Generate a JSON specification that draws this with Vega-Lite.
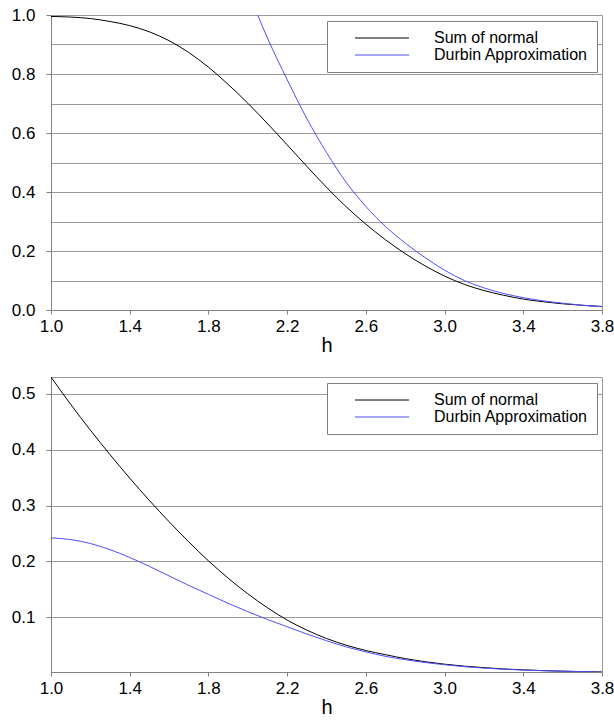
{
  "$schema": "https://vega.github.io/schema/vega-lite/v6.json",
  "padding": {"left": 10, "top": 5, "right": 0, "bottom": 0},
  "background": "white",
  "config": {
    "font": "Liberation Sans",
    "view": {"stroke": "#999999", "strokeWidth": 1},
    "axis": {
      "labelFont": "Liberation Sans", "labelFontSize": 17, "labelColor": "#000000",
      "domainColor": "#808080", "tickColor": "#808080", "gridColor": "#9a9a9a",
      "titleFont": "Liberation Sans", "titleFontSize": 20, "titleFontWeight": "normal", "titleColor": "#000000"
    },
    "legend": {
      "symbolType": "M-5.4,0L5.4,0", "symbolSize": 100, "symbolStrokeWidth": 2,
      "labelFont": "Liberation Sans", "labelFontSize": 16, "labelColor": "#000000",
      "padding": 9, "strokeColor": "#808080", "fillColor": "#ffffff",
      "symbolOffset": 38, "labelOffset": 44, "rowPadding": 1
    },
    "line": {"interpolate": "monotone", "strokeWidth": 1}
  },
  "datasets": {
    "top": [
      {"series": "Sum of normal", "h": 1.0, "p": 0.995},
      {"series": "Sum of normal", "h": 1.1, "p": 0.993},
      {"series": "Sum of normal", "h": 1.2, "p": 0.988},
      {"series": "Sum of normal", "h": 1.3, "p": 0.978},
      {"series": "Sum of normal", "h": 1.4, "p": 0.964},
      {"series": "Sum of normal", "h": 1.5, "p": 0.943},
      {"series": "Sum of normal", "h": 1.6, "p": 0.913},
      {"series": "Sum of normal", "h": 1.7, "p": 0.873},
      {"series": "Sum of normal", "h": 1.8, "p": 0.823},
      {"series": "Sum of normal", "h": 1.9, "p": 0.765},
      {"series": "Sum of normal", "h": 2.0, "p": 0.701},
      {"series": "Sum of normal", "h": 2.1, "p": 0.632},
      {"series": "Sum of normal", "h": 2.2, "p": 0.56},
      {"series": "Sum of normal", "h": 2.3, "p": 0.487},
      {"series": "Sum of normal", "h": 2.4, "p": 0.416},
      {"series": "Sum of normal", "h": 2.5, "p": 0.35},
      {"series": "Sum of normal", "h": 2.6, "p": 0.291},
      {"series": "Sum of normal", "h": 2.7, "p": 0.238},
      {"series": "Sum of normal", "h": 2.8, "p": 0.191},
      {"series": "Sum of normal", "h": 2.9, "p": 0.15},
      {"series": "Sum of normal", "h": 3.0, "p": 0.115},
      {"series": "Sum of normal", "h": 3.1, "p": 0.087},
      {"series": "Sum of normal", "h": 3.2, "p": 0.066},
      {"series": "Sum of normal", "h": 3.3, "p": 0.05},
      {"series": "Sum of normal", "h": 3.4, "p": 0.037},
      {"series": "Sum of normal", "h": 3.5, "p": 0.028},
      {"series": "Sum of normal", "h": 3.6, "p": 0.021},
      {"series": "Sum of normal", "h": 3.7, "p": 0.016},
      {"series": "Sum of normal", "h": 3.8, "p": 0.012},
      {"series": "Durbin Approximation", "h": 2.05, "p": 1.0},
      {"series": "Durbin Approximation", "h": 2.1, "p": 0.922},
      {"series": "Durbin Approximation", "h": 2.2, "p": 0.781},
      {"series": "Durbin Approximation", "h": 2.3, "p": 0.649},
      {"series": "Durbin Approximation", "h": 2.4, "p": 0.534},
      {"series": "Durbin Approximation", "h": 2.5, "p": 0.433},
      {"series": "Durbin Approximation", "h": 2.6, "p": 0.351},
      {"series": "Durbin Approximation", "h": 2.7, "p": 0.283},
      {"series": "Durbin Approximation", "h": 2.8, "p": 0.227},
      {"series": "Durbin Approximation", "h": 2.9, "p": 0.178},
      {"series": "Durbin Approximation", "h": 3.0, "p": 0.135},
      {"series": "Durbin Approximation", "h": 3.1, "p": 0.1},
      {"series": "Durbin Approximation", "h": 3.2, "p": 0.075},
      {"series": "Durbin Approximation", "h": 3.3, "p": 0.056},
      {"series": "Durbin Approximation", "h": 3.4, "p": 0.042},
      {"series": "Durbin Approximation", "h": 3.5, "p": 0.031},
      {"series": "Durbin Approximation", "h": 3.6, "p": 0.023},
      {"series": "Durbin Approximation", "h": 3.7, "p": 0.016},
      {"series": "Durbin Approximation", "h": 3.8, "p": 0.011}
    ],
    "bottom": [
      {"series": "Sum of normal", "h": 1.0, "p": 0.53},
      {"series": "Sum of normal", "h": 1.1, "p": 0.481},
      {"series": "Sum of normal", "h": 1.2, "p": 0.435},
      {"series": "Sum of normal", "h": 1.3, "p": 0.391},
      {"series": "Sum of normal", "h": 1.4, "p": 0.349},
      {"series": "Sum of normal", "h": 1.5, "p": 0.309},
      {"series": "Sum of normal", "h": 1.6, "p": 0.271},
      {"series": "Sum of normal", "h": 1.7, "p": 0.235},
      {"series": "Sum of normal", "h": 1.8, "p": 0.201},
      {"series": "Sum of normal", "h": 1.9, "p": 0.17},
      {"series": "Sum of normal", "h": 2.0, "p": 0.142},
      {"series": "Sum of normal", "h": 2.1, "p": 0.117},
      {"series": "Sum of normal", "h": 2.2, "p": 0.095},
      {"series": "Sum of normal", "h": 2.3, "p": 0.077},
      {"series": "Sum of normal", "h": 2.4, "p": 0.062},
      {"series": "Sum of normal", "h": 2.5, "p": 0.05},
      {"series": "Sum of normal", "h": 2.6, "p": 0.0405},
      {"series": "Sum of normal", "h": 2.7, "p": 0.033},
      {"series": "Sum of normal", "h": 2.8, "p": 0.026},
      {"series": "Sum of normal", "h": 2.9, "p": 0.0205},
      {"series": "Sum of normal", "h": 3.0, "p": 0.016},
      {"series": "Sum of normal", "h": 3.1, "p": 0.0125},
      {"series": "Sum of normal", "h": 3.2, "p": 0.0098},
      {"series": "Sum of normal", "h": 3.3, "p": 0.0075},
      {"series": "Sum of normal", "h": 3.4, "p": 0.0058},
      {"series": "Sum of normal", "h": 3.5, "p": 0.0045},
      {"series": "Sum of normal", "h": 3.6, "p": 0.0035},
      {"series": "Sum of normal", "h": 3.7, "p": 0.0027},
      {"series": "Sum of normal", "h": 3.8, "p": 0.002},
      {"series": "Durbin Approximation", "h": 1.0, "p": 0.242},
      {"series": "Durbin Approximation", "h": 1.1, "p": 0.239},
      {"series": "Durbin Approximation", "h": 1.2, "p": 0.232},
      {"series": "Durbin Approximation", "h": 1.3, "p": 0.221},
      {"series": "Durbin Approximation", "h": 1.4, "p": 0.207},
      {"series": "Durbin Approximation", "h": 1.5, "p": 0.191},
      {"series": "Durbin Approximation", "h": 1.6, "p": 0.174},
      {"series": "Durbin Approximation", "h": 1.7, "p": 0.157},
      {"series": "Durbin Approximation", "h": 1.8, "p": 0.141},
      {"series": "Durbin Approximation", "h": 1.9, "p": 0.125},
      {"series": "Durbin Approximation", "h": 2.0, "p": 0.11},
      {"series": "Durbin Approximation", "h": 2.1, "p": 0.096},
      {"series": "Durbin Approximation", "h": 2.2, "p": 0.083},
      {"series": "Durbin Approximation", "h": 2.3, "p": 0.07},
      {"series": "Durbin Approximation", "h": 2.4, "p": 0.058},
      {"series": "Durbin Approximation", "h": 2.5, "p": 0.047},
      {"series": "Durbin Approximation", "h": 2.6, "p": 0.038},
      {"series": "Durbin Approximation", "h": 2.7, "p": 0.03},
      {"series": "Durbin Approximation", "h": 2.8, "p": 0.024},
      {"series": "Durbin Approximation", "h": 2.9, "p": 0.019},
      {"series": "Durbin Approximation", "h": 3.0, "p": 0.015},
      {"series": "Durbin Approximation", "h": 3.1, "p": 0.0115},
      {"series": "Durbin Approximation", "h": 3.2, "p": 0.009},
      {"series": "Durbin Approximation", "h": 3.3, "p": 0.007},
      {"series": "Durbin Approximation", "h": 3.4, "p": 0.0055},
      {"series": "Durbin Approximation", "h": 3.5, "p": 0.0043},
      {"series": "Durbin Approximation", "h": 3.6, "p": 0.0034},
      {"series": "Durbin Approximation", "h": 3.7, "p": 0.0026},
      {"series": "Durbin Approximation", "h": 3.8, "p": 0.002}
    ]
  },
  "vconcat": [
    {
      "width": 551,
      "height": 295,
      "data": {"name": "top"},
      "mark": {"type": "line", "clip": true},
      "encoding": {
        "x": {
          "field": "h", "type": "quantitative",
          "scale": {"domain": [1, 3.8], "nice": false, "zero": false},
          "axis": {"values": [1, 1.4, 1.8, 2.2, 2.6, 3, 3.4, 3.8], "format": ".1f", "grid": false, "labelFlush": false, "tickSize": 4, "labelPadding": 4, "title": "h", "titlePadding": 1}
        },
        "y": {
          "field": "p", "type": "quantitative",
          "scale": {"domain": [0, 1], "nice": false},
          "axis": {
            "values": [0, 0.1, 0.2, 0.3, 0.4, 0.5, 0.6, 0.7, 0.8, 0.9, 1.0],
            "labelExpr": "round(datum.value*10)%2==0 ? format(datum.value,'.1f') : ''",
            "tickOpacity": {"condition": {"test": "round(datum.value*10)%2!=0", "value": 0}, "value": 1},
            "labelFlush": false,
            "title": null, "tickSize": 5, "labelPadding": 11
          }
        },
        "color": {
          "field": "series", "type": "nominal",
          "scale": {"domain": ["Sum of normal", "Durbin Approximation"], "range": ["#000000", "#4d4dff"]},
          "legend": {"orient": "none", "legendX": 276, "legendY": 6, "title": null}
        }
      }
    },
    {
      "width": 551,
      "height": 295,
      "data": {"name": "bottom"},
      "mark": {"type": "line", "clip": true},
      "encoding": {
        "x": {
          "field": "h", "type": "quantitative",
          "scale": {"domain": [1, 3.8], "nice": false, "zero": false},
          "axis": {"values": [1, 1.4, 1.8, 2.2, 2.6, 3, 3.4, 3.8], "format": ".1f", "grid": false, "labelFlush": false, "tickSize": 4, "labelPadding": 4, "title": "h", "titlePadding": 1}
        },
        "y": {
          "field": "p", "type": "quantitative",
          "scale": {"domain": [0.002, 0.53], "nice": false, "zero": false},
          "axis": {"values": [0.1, 0.2, 0.3, 0.4, 0.5], "format": ".1f", "labelFlush": false, "title": null, "tickSize": 5, "labelPadding": 11}
        },
        "color": {
          "field": "series", "type": "nominal",
          "scale": {"domain": ["Sum of normal", "Durbin Approximation"], "range": ["#000000", "#4d4dff"]},
          "legend": {"orient": "none", "legendX": 276, "legendY": 6, "title": null}
        }
      }
    }
  ],
  "spacing": 20,
  "resolve": {"scale": {"color": "independent"}, "legend": {"color": "independent"}}
}
